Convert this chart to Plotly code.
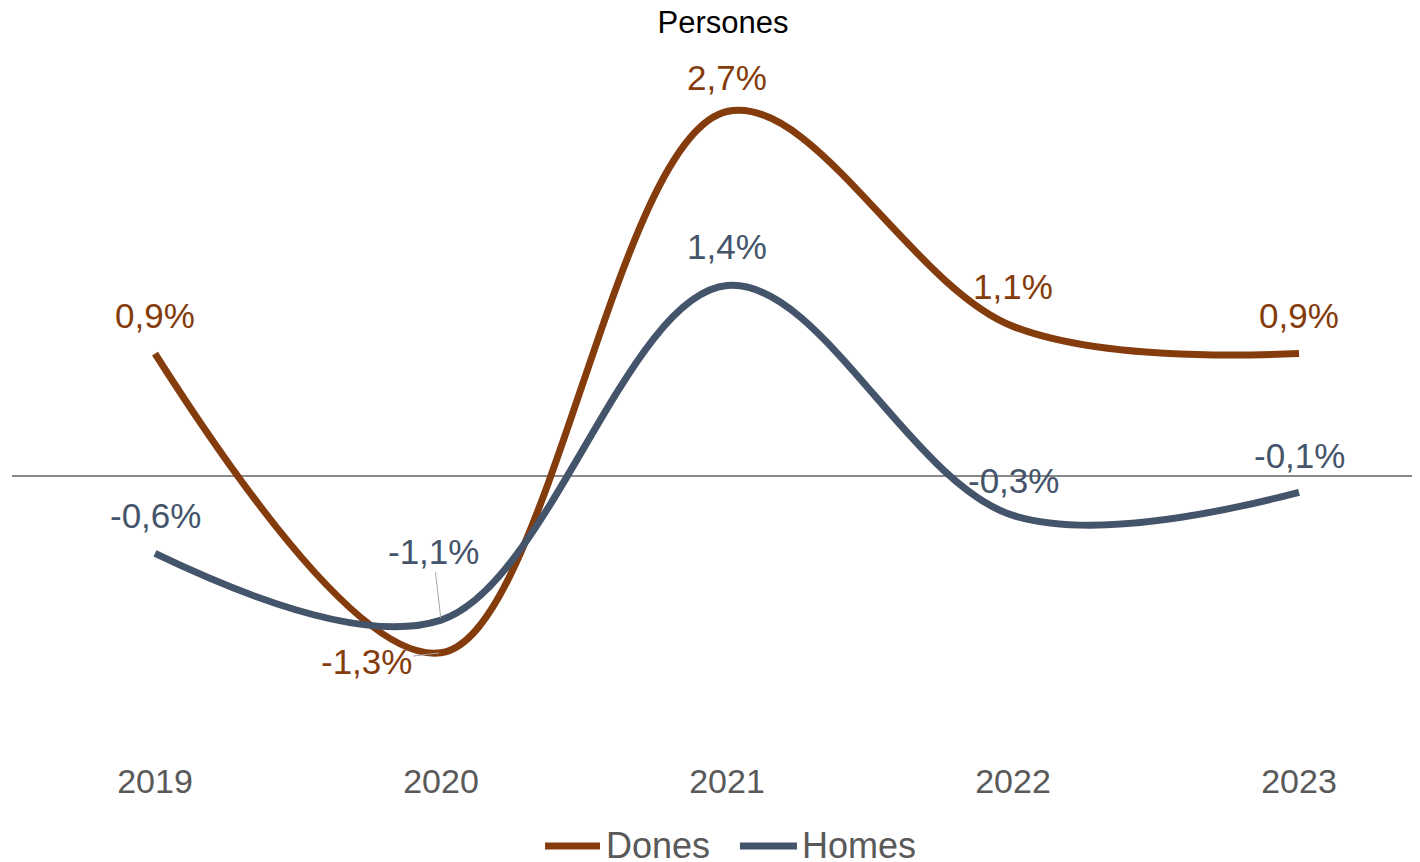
import plotly.graph_objects as go

years = ["2019", "2020", "2021", "2022", "2023"]
dones = [0.90, -1.30, 2.68, 1.10, 0.90]
homes = [-0.57, -1.06, 1.40, -0.29, -0.12]

dones_color = "#843C0C"
homes_color = "#44546A"
font_family = "Arial, Liberation Sans, sans-serif"

xs = list(range(len(years)))

def fmt(v):
    return f"{v:.1f}".replace(".", ",") + "%"

fig = go.Figure()
fig.add_trace(go.Scatter(x=xs, y=dones, name="Dones", mode="lines",
                         line=dict(color=dones_color, width=7, shape="spline", smoothing=1.0)))
fig.add_trace(go.Scatter(x=xs, y=homes, name="Homes", mode="lines",
                         line=dict(color=homes_color, width=7, shape="spline", smoothing=1.0)))

annotations = []
# label offsets (pixels): None means use leader line
dones_shift = [38, None, 34, 40, 38]
homes_shift = [38, None, 39, 35, 37]
leader = {("Dones", 1): (-75, 9), ("Homes", 1): (-8, -69)}

for name, vals, col, shifts in [("Dones", dones, dones_color, dones_shift),
                                ("Homes", homes, homes_color, homes_shift)]:
    for i, v in enumerate(vals):
        if shifts[i] is None:
            ax, ay = leader[(name, i)]
            annotations.append(dict(x=xs[i], y=v, xref="x", yref="y", text=fmt(v),
                                    showarrow=True, arrowhead=0, arrowwidth=1,
                                    arrowcolor="#A6A6A6", ax=ax, ay=ay, standoff=2,
                                    font=dict(family=font_family, size=35, color=col)))
        else:
            annotations.append(dict(x=xs[i], y=v, xref="x", yref="y", text=fmt(v),
                                    showarrow=False, yshift=shifts[i],
                                    font=dict(family=font_family, size=35, color=col)))

# manual legend (paper coordinates)
shapes = []
legend_items = [("Dones", dones_color, 0.3786, 0.4176, 0.4205),
                ("Homes", homes_color, 0.5170, 0.5575, 0.5597)]
leg_y = -0.1234
for name, col, x0, x1, xt in legend_items:
    shapes.append(dict(type="line", xref="paper", yref="paper", x0=x0, x1=x1,
                       y0=leg_y, y1=leg_y, line=dict(color=col, width=7)))
    annotations.append(dict(xref="paper", yref="paper", x=xt, y=leg_y, text=name,
                            showarrow=False, xanchor="left", yanchor="middle",
                            font=dict(family=font_family, size=36, color="#595959")))

fig.update_layout(
    width=1412, height=854,
    margin=dict(l=4, r=0, t=37, b=104, autoexpand=False),
    paper_bgcolor="white", plot_bgcolor="white",
    title=dict(text="Persones", x=0.5064, xanchor="center", y=0.9836, yanchor="middle",
               font=dict(family=font_family, size=31, color="black")),
    xaxis=dict(tickmode="array", tickvals=xs, ticktext=years, range=[-0.5, 4.423],
               showgrid=False, zeroline=False, showline=False, ticks="",
               automargin=False,
               tickfont=dict(family=font_family, size=34, color="#595959")),
    yaxis=dict(range=[-2.074, 3.169], showgrid=False, showticklabels=False,
               automargin=False,
               zeroline=True, zerolinecolor="#898989", zerolinewidth=1.5, ticks=""),
    annotations=annotations,
    shapes=shapes,
    showlegend=False,
)

fig.write_html("out.html")
